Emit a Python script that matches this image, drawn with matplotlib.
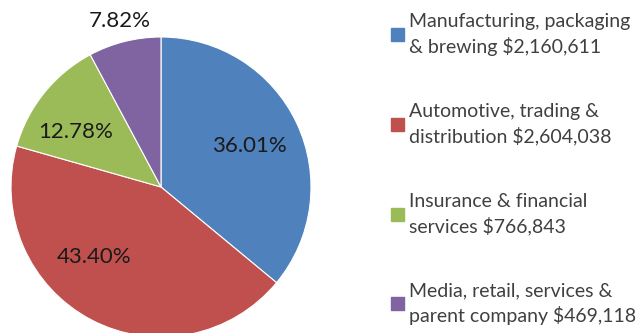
import matplotlib
matplotlib.use('Agg')
import matplotlib.pyplot as plt
import matplotlib.patches as mpatches
import numpy as np

plt.rcParams['font.family'] = ['Lato', 'DejaVu Sans']

labels = ['Manufacturing, packaging\n& brewing $2,160,611',
          'Automotive, trading &\ndistribution $2,604,038',
          'Insurance & financial\nservices $766,843',
          'Media, retail, services &\nparent company $469,118']
values = [2160611, 2604038, 766843, 469118]
colors = ['#4F81BD', '#C0504D', '#9BBB59', '#8064A2']

fig = plt.figure(figsize=(6.39, 3.33), dpi=100)
ax = fig.add_axes([11/639, -4/333, 300/639, 300/333])

wedges, texts, autotexts = ax.pie(values, colors=colors, startangle=90, counterclock=False,
                                  autopct='%.2f%%', pctdistance=0.65, radius=1,
                                  wedgeprops=dict(edgecolor='white', linewidth=0.8),
                                  textprops=dict(fontsize=16, color='#1a1a1a'))
ax.set_xlim(-1, 1)
ax.set_ylim(-1, 1)
ax.set_aspect('equal')

# push labels to roughly where Excel put them
label_r = [0.65, 0.65, 0.68, 1.14]
label_shift = [0, -16, 6, 0]
for w, t, r, s in zip(wedges, autotexts, label_r, label_shift):
    ang = np.deg2rad((w.theta1 + w.theta2) / 2 + s)
    t.set_position((r * np.cos(ang), r * np.sin(ang)))
    t.set_clip_on(False)

handles = [mpatches.Patch(color=c) for c in colors]
leg = fig.legend(handles, labels, loc='upper left', bbox_to_anchor=(391/639, 1 - 13/333),
                 frameon=False, fontsize=14, labelspacing=2.4, handlelength=0.65,
                 handleheight=0.65, handletextpad=0.3, borderaxespad=0, borderpad=0)
for t in leg.get_texts():
    t.set_color('#404040')
    t.set_linespacing(1.46)

fig.savefig('out.png', dpi=100)
